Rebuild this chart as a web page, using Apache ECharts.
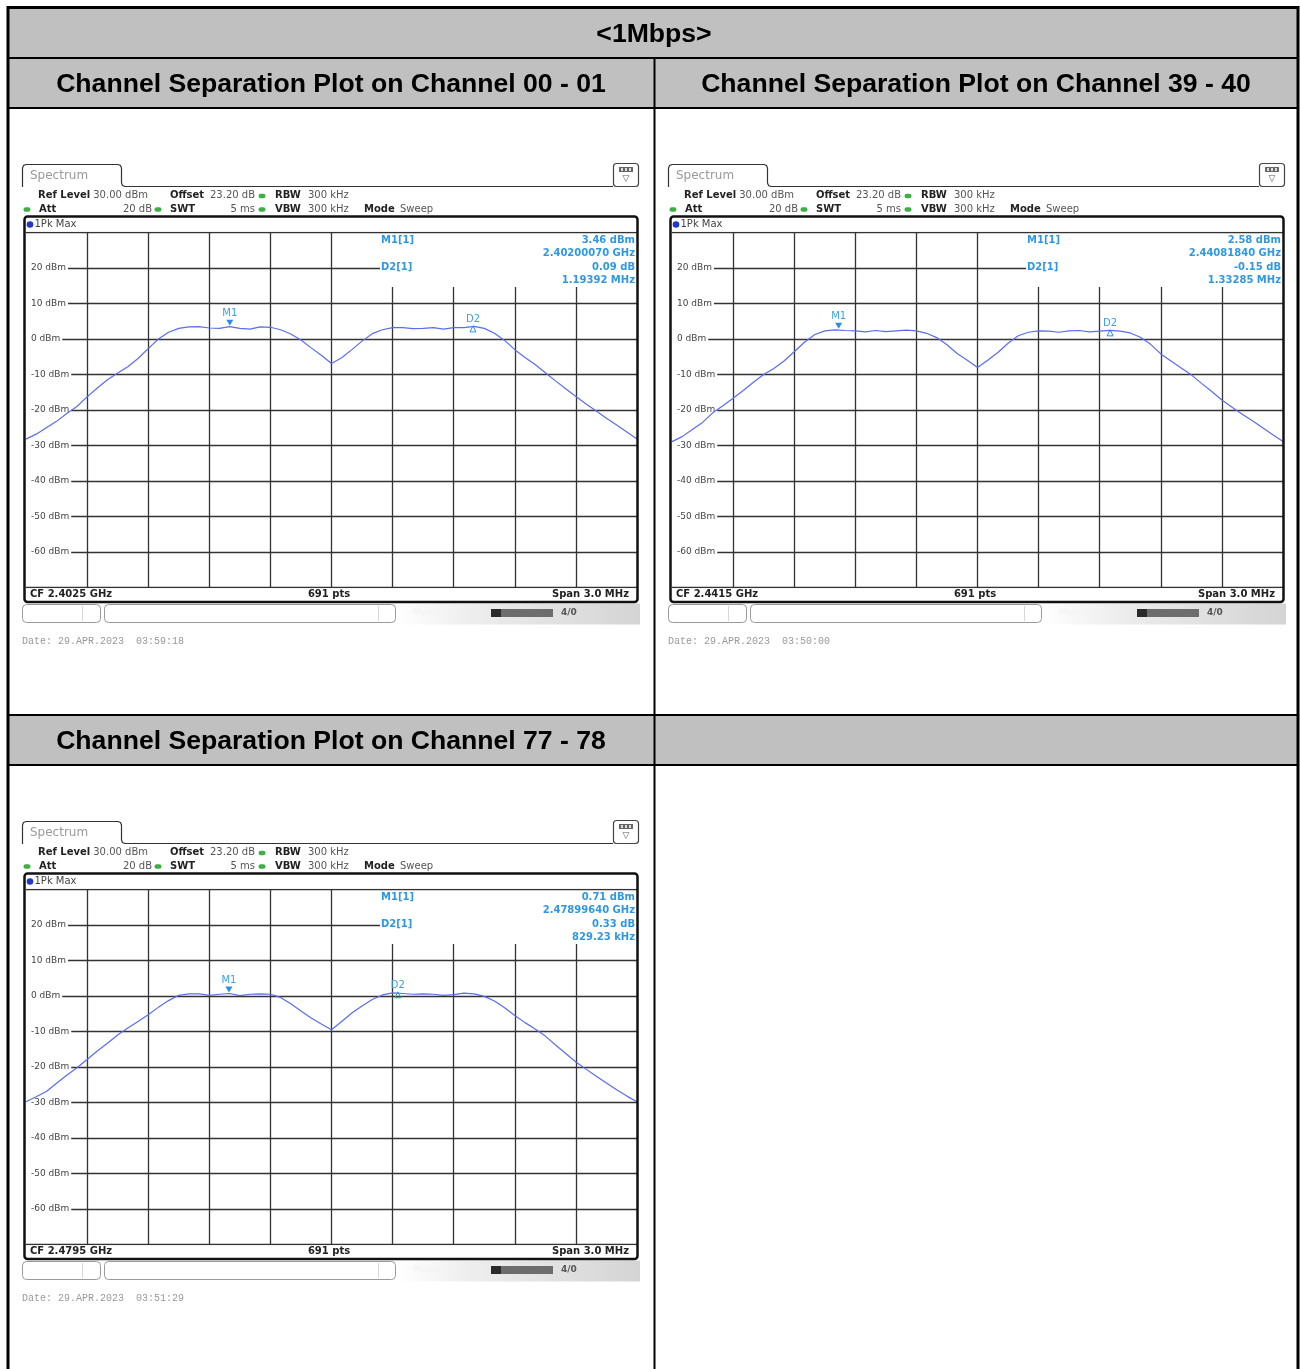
<!DOCTYPE html>
<html><head><meta charset="utf-8">
<script src="https://cdn.jsdelivr.net/npm/echarts/dist/echarts.min.js"></script>
<style>html,body{margin:0;padding:0;background:#fff}#c{width:1300px;height:1369px}</style>
</head><body><div id="c"></div><script>
// ---------------- data ----------------
const tableTitle = '<1Mbps>';
const plotTitles = ['Channel Separation Plot on Channel 00 - 01','Channel Separation Plot on Channel 39 - 40','Channel Separation Plot on Channel 77 - 78'];
const cfLabels = ['CF 2.4025 GHz','CF 2.4415 GHz','CF 2.4795 GHz'];
const ptsLabel = '691 pts';
const spanLabel = 'Span 3.0 MHz';
const dateLabels = ['Date: 29.APR.2023  03:59:18','Date: 29.APR.2023  03:50:00','Date: 29.APR.2023  03:51:29'];
const yTicks = [-70,-60,-50,-40,-30,-20,-10,0,10,20,30];
const xTicksMHz = [0,0.3,0.6,0.9,1.2,1.5,1.8,2.1,2.4,2.7,3.0];
// frequency offset from span start (MHz)
const freqOffsetMHz = [0,0.05,0.1,0.15,0.2,0.25,0.3,0.35,0.4,0.45,0.5,0.55,0.6,0.65,0.7,0.75,0.8,0.85,0.9,0.95,1.0,1.05,1.1,1.15,1.2,1.25,1.3,1.35,1.4,1.45,1.5,1.55,1.6,1.65,1.7,1.75,1.8,1.85,1.9,1.95,2.0,2.05,2.1,2.15,2.2,2.25,2.3,2.35,2.4,2.45,2.5,2.55,2.6,2.65,2.7,2.75,2.8,2.85,2.9,2.95,3.0];
const levelCh00 = [-28.2,-26.8,-25.0,-23.2,-21.0,-19.0,-16.3,-13.8,-11.5,-9.6,-7.8,-5.5,-2.7,0.0,1.9,3.0,3.4,3.5,3.1,3.0,3.46,3.0,2.8,3.4,3.3,2.6,1.4,-0.3,-2.5,-4.6,-6.9,-5.3,-3.0,-0.6,1.5,2.6,3.2,3.2,2.9,3.0,3.2,2.8,3.2,3.2,3.55,3.0,1.6,-0.4,-3.0,-5.2,-7.2,-9.5,-11.8,-14.0,-16.2,-18.3,-20.3,-22.3,-24.2,-26.2,-28.2];
const levelCh39 = [-28.9,-27.5,-25.5,-23.5,-20.8,-18.8,-16.7,-14.5,-12.2,-10.0,-8.3,-6.2,-3.6,-0.9,1.2,2.3,2.58,2.4,2.3,2.0,2.4,2.1,2.3,2.5,2.3,1.6,0.4,-1.6,-4.1,-6.0,-8.0,-6.0,-3.8,-1.2,0.9,1.9,2.3,2.2,1.9,2.3,2.4,2.0,2.2,2.43,2.2,1.7,0.5,-1.5,-4.2,-6.2,-8.2,-10.1,-12.5,-14.8,-17.2,-19.2,-21.2,-23.0,-25.0,-27.0,-28.9];
const levelCh77 = [-29.8,-28.4,-26.9,-24.6,-22.3,-20.2,-17.9,-15.5,-13.3,-11.0,-9.0,-7.2,-5.3,-3.2,-1.3,0.2,0.6,0.6,0.2,0.5,0.71,0.1,0.5,0.6,0.5,-0.4,-2.2,-4.2,-6.2,-7.9,-9.5,-7.2,-4.8,-2.8,-1.0,0.3,0.9,0.7,0.5,0.6,0.5,0.2,0.4,0.8,0.6,-0.1,-1.4,-3.3,-5.5,-7.5,-9.3,-11.3,-13.8,-16.2,-18.6,-20.6,-22.6,-24.5,-26.4,-28.2,-29.8];
const m1OffsetMHz = [1.0007, 0.8184, 0.9964];
const m1Level = [3.46, 2.58, 0.71];
const m1FreqLabel = ['2.40200070 GHz','2.44081840 GHz','2.47899640 GHz'];
const d2DeltaMHz = [1.19392, 1.33285, 0.82923];
const d2DeltaDb = [0.09, -0.15, 0.33];
const d2DeltaLabel = ['1.19392 MHz','1.33285 MHz','829.23 kHz'];
const levels = [levelCh00, levelCh39, levelCh77];

// ---------------- layout ----------------
const offsets = [[0,0],[646,0],[0,657]];
const PL = 26, PT = 232.5, PW = 611, PH = 355;
const TRACE = '#5a6cf0', MK = '#2f98e4', GRIDC = '#333333';
const F = '"DejaVu Sans", Verdana, sans-serif';

function T(text, x, y, o) {
  return {type:'text', z:20, silent:true, style:Object.assign({
    text:text, x:x, y:y, textAlign:'left', textVerticalAlign:'middle', align:'left', verticalAlign:'middle',
    fill:'#333', font:'10px ' + F}, o || {})};
}
function deco(i) {
  const ox = offsets[i][0], oy = offsets[i][1];
  const X = v => v + ox, Y = v => v + oy;
  const els = [];
  const bold = 'bold 10px ' + F, norm = '10px ' + F;
  // tab
  els.push({type:'polyline', z:15, silent:true, shape:{points:[[X(22.5),Y(187)],[X(22.5),Y(168)],[X(23.5),Y(165.5)],[X(26),Y(164.5)],[X(118),Y(164.5)],[X(120.5),Y(165.5)],[X(121.5),Y(168)],[X(121.5),Y(183)],[X(122.5),Y(185.5)],[X(125),Y(186.5)],[X(613),Y(186.5)]]}, style:{stroke:'#333', lineWidth:1.2, fill:null}});
  els.push(T('Spectrum', X(30), Y(175.5), {font:'12px ' + F, fill:'#999'}));
  // icon
  els.push({type:'rect', z:15, silent:true, shape:{x:X(613.5), y:Y(163.5), width:25, height:23, r:3}, style:{stroke:'#444', lineWidth:1.2, fill:'#fff'}});
  els.push({type:'rect', z:16, silent:true, shape:{x:X(619), y:Y(167), width:14, height:5}, style:{fill:'#666'}});
  els.push({type:'rect', z:17, silent:true, shape:{x:X(621), y:Y(168), width:2, height:3}, style:{fill:'#ddd'}});
  els.push({type:'rect', z:17, silent:true, shape:{x:X(625), y:Y(168), width:2, height:3}, style:{fill:'#ddd'}});
  els.push({type:'rect', z:17, silent:true, shape:{x:X(629), y:Y(168), width:2, height:3}, style:{fill:'#ddd'}});
  els.push(T('\u25BD', X(626), Y(179), {font:'9px ' + F, fill:'#555', textAlign:'center', align:'center'}));
  // settings rows
  const dot = (x, y) => ({type:'rect', z:16, silent:true, shape:{x:X(x-3.5), y:Y(y-2.2), width:7, height:4.4, r:2.2}, style:{fill:'#3cb043'}});
  els.push(T('Ref Level', X(38), Y(195.5), {font:bold, fill:'#222'}));
  els.push(T('30.00 dBm', X(148), Y(195.5), {font:norm, fill:'#555', textAlign:'right', align:'right'}));
  els.push(T('Offset', X(170), Y(195.5), {font:bold, fill:'#222'}));
  els.push(T('23.20 dB', X(255), Y(195.5), {font:norm, fill:'#555', textAlign:'right', align:'right'}));
  els.push(dot(262, 196));
  els.push(T('RBW', X(275), Y(195.5), {font:bold, fill:'#222'}));
  els.push(T('300 kHz', X(308), Y(195.5), {font:norm, fill:'#555'}));
  els.push(dot(27, 209.5));
  els.push(T('Att', X(39), Y(209.5), {font:bold, fill:'#222'}));
  els.push(T('20 dB', X(152), Y(209.5), {font:norm, fill:'#555', textAlign:'right', align:'right'}));
  els.push(dot(158, 209.5));
  els.push(T('SWT', X(170), Y(209.5), {font:bold, fill:'#222'}));
  els.push(T('5 ms', X(255), Y(209.5), {font:norm, fill:'#555', textAlign:'right', align:'right'}));
  els.push(dot(262, 209.5));
  els.push(T('VBW', X(275), Y(209.5), {font:bold, fill:'#222'}));
  els.push(T('300 kHz', X(308), Y(209.5), {font:norm, fill:'#555'}));
  els.push(T('Mode', X(364), Y(209.5), {font:bold, fill:'#222'}));
  els.push(T('Sweep', X(400), Y(209.5), {font:norm, fill:'#555'}));
  // frame
  els.push({type:'rect', z:18, silent:true, shape:{x:X(24.5), y:Y(216.5), width:613, height:385.5, r:3}, style:{stroke:'#111', lineWidth:2.5, fill:null}});
  els.push({type:'circle', z:16, silent:true, shape:{cx:X(30), cy:Y(224.5), r:3.3}, style:{fill:'#2236c8'}});
  els.push(T('1Pk Max', X(34.5), Y(224.5), {font:norm, fill:'#444'}));
  // bottom bar
  els.push(T(cfLabels[i], X(30), Y(594.5), {font:bold, fill:'#222'}));
  els.push(T(ptsLabel, X(329), Y(594.5), {font:bold, fill:'#222', textAlign:'center', align:'center'}));
  els.push(T(spanLabel, X(629), Y(594.5), {font:bold, fill:'#222', textAlign:'right', align:'right'}));
  // marker readout
  const mf = 'bold 10px ' + F;
  els.push(T('M1[1]', X(381), Y(240), {font:mf, fill:MK}));
  els.push(T('D2[1]', X(381), Y(267), {font:mf, fill:MK}));
  els.push(T(m1Level[i].toFixed(2) + ' dBm', X(635), Y(240), {font:mf, fill:MK, textAlign:'right', align:'right'}));
  els.push(T(m1FreqLabel[i], X(635), Y(253.5), {font:mf, fill:MK, textAlign:'right', align:'right'}));
  els.push(T(d2DeltaDb[i].toFixed(2) + ' dB', X(635), Y(267), {font:mf, fill:MK, textAlign:'right', align:'right'}));
  els.push(T(d2DeltaLabel[i], X(635), Y(280.5), {font:mf, fill:MK, textAlign:'right', align:'right'}));
  // status bar
  els.push({type:'rect', z:12, silent:true, shape:{x:X(396), y:Y(603.5), width:244, height:21}, style:{fill:{type:'linear', x:0, y:0, x2:1, y2:0, colorStops:[{offset:0, color:'#ffffff'},{offset:0.3, color:'#eeeeee'},{offset:1, color:'#d4d4d4'}]}}});
  els.push({type:'rect', z:14, silent:true, shape:{x:X(22.5), y:Y(604.5), width:78, height:18, r:4}, style:{stroke:'#9a9a9a', lineWidth:1, fill:'#fff'}});
  els.push({type:'line', z:14, silent:true, shape:{x1:X(82.5), y1:Y(606), x2:X(82.5), y2:Y(621)}, style:{stroke:'#d8d8d8', lineWidth:1}});
  els.push({type:'rect', z:14, silent:true, shape:{x:X(104.5), y:Y(604.5), width:291, height:18, r:4}, style:{stroke:'#9a9a9a', lineWidth:1, fill:'#fff'}});
  els.push({type:'line', z:14, silent:true, shape:{x1:X(378.5), y1:Y(606), x2:X(378.5), y2:Y(621)}, style:{stroke:'#d8d8d8', lineWidth:1}});
  els.push(T('Measuring...', X(413), Y(613), {font:'8px ' + F, fill:'#f2f2f2'}));
  els.push({type:'rect', z:14, silent:true, shape:{x:X(491), y:Y(609), width:10, height:8}, style:{fill:'#2a2a2a'}});
  els.push({type:'rect', z:14, silent:true, shape:{x:X(501), y:Y(609), width:52, height:8}, style:{fill:'#6d6d6d'}});
  els.push(T('4/0', X(561), Y(613), {font:'bold 9px ' + F, fill:'#555'}));
  // date
  els.push(T(dateLabels[i], X(22), Y(641.5), {font:'10px "Liberation Mono", "DejaVu Sans Mono", monospace', fill:'#999'}));
  return els;
}

function tableEls() {
  const els = [];
  const gray = '#c0c0c0';
  els.push({type:'rect', z:1, silent:true, shape:{x:8, y:8, width:1290, height:50}, style:{fill:gray}});
  els.push({type:'rect', z:1, silent:true, shape:{x:8, y:58, width:1290, height:50}, style:{fill:gray}});
  els.push({type:'rect', z:1, silent:true, shape:{x:8, y:715, width:1290, height:50}, style:{fill:gray}});
  [58,108,715,765].forEach(y => els.push({type:'line', z:2, silent:true, shape:{x1:8, y1:y, x2:1298, y2:y}, style:{stroke:'#000', lineWidth:2}}));
  els.push({type:'line', z:2, silent:true, shape:{x1:654.5, y1:58, x2:654.5, y2:1372}, style:{stroke:'#000', lineWidth:2}});
  els.push({type:'rect', z:3, silent:true, shape:{x:8, y:7.5, width:1290, height:1380}, style:{stroke:'#000', lineWidth:3, fill:null}});
  const tf = 'bold 26.6px "Liberation Sans", Arial, sans-serif';
  els.push(T(tableTitle, 654, 35, {font:tf, fill:'#000', textAlign:'center', align:'center'}));
  els.push(T(plotTitles[0], 331, 84.5, {font:tf, fill:'#000', textAlign:'center', align:'center'}));
  els.push(T(plotTitles[1], 976, 84.5, {font:tf, fill:'#000', textAlign:'center', align:'center'}));
  els.push(T(plotTitles[2], 331, 741.5, {font:tf, fill:'#000', textAlign:'center', align:'center'}));
  return els;
}

// grid line segments, in data coordinates
function gridSegments() {
  const segs = [];
  yTicks.forEach(v => {
    if (v === 20) segs.push({coords:[[0, v],[1.738, v]]});
    else segs.push({coords:[[0, v],[3.0, v]]});
  });
  xTicksMHz.forEach(f => {
    if (f === 0 || f === 3.0) return;
    if (f > 1.6) segs.push({coords:[[f, -70],[f, 14.65]]});
    else segs.push({coords:[[f, -70],[f, 30]]});
  });
  return segs;
}

const grids = [], xAxes = [], yAxes = [], series = [];
for (let i = 0; i < 3; i++) {
  const ox = offsets[i][0], oy = offsets[i][1];
  grids.push({left:PL + ox, top:PT + oy, width:PW, height:PH, containLabel:false, outerBoundsMode:'none', show:false});
  xAxes.push({type:'value', gridIndex:i, min:0, max:3.0, interval:0.3, axisLine:{show:false}, axisTick:{show:false}, axisLabel:{show:false}, splitLine:{show:false}});
  yAxes.push({type:'value', gridIndex:i, min:-70, max:30, interval:10, z:2,
    axisLine:{show:false}, axisTick:{show:false}, splitLine:{show:false},
    axisLabel:{inside:true, margin:0, color:'#444', fontSize:9, fontFamily:F, backgroundColor:'#fff', padding:[0,2,0,5],
      formatter: v => (v === 30 || v === -70) ? '' : (v + ' dBm')}});
  series.push({type:'lines', coordinateSystem:'cartesian2d', xAxisIndex:i, yAxisIndex:i, z:1, silent:true,
    lineStyle:{color:GRIDC, width:1.3, opacity:1}, data:gridSegments()});
  const pts = freqOffsetMHz.map((f, k) => [f, levels[i][k]]);
  const d2x = m1OffsetMHz[i] + d2DeltaMHz[i], d2y = m1Level[i] + d2DeltaDb[i];
  series.push({type:'line', xAxisIndex:i, yAxisIndex:i, z:3, silent:true, symbol:'none', animation:false,
    lineStyle:{color:TRACE, width:1.2}, data:pts,
    markPoint:{silent:true, animation:false,
      label:{show:true, position:'top', distance:1, formatter:'{b}', color:'#3aa0e6', fontSize:10, fontFamily:F},
      data:[
        {name:'M1', coord:[m1OffsetMHz[i], m1Level[i]], symbol:'path://M0,0L10,0L5,8Z', symbolSize:[7,6], symbolOffset:[0,-4], itemStyle:{color:'#2a8fe0'}},
        {name:'D2', coord:[d2x, d2y], symbol:'path://M5,0L10,8L0,8Z', symbolSize:[6,6], symbolOffset:[0,2.5], itemStyle:{color:'rgba(255,255,255,0)', borderColor:'#2a8fe0', borderWidth:1}}
      ]}});
}

const graphicEls = tableEls().concat(deco(0), deco(1), deco(2));
const chart = echarts.init(document.getElementById('c'), null, {renderer:'canvas'});
chart.setOption({
  animation:false,
  backgroundColor:'#ffffff',
  grid:grids, xAxis:xAxes, yAxis:yAxes, series:series,
  graphic:{elements:graphicEls}
});
</script></body></html>
